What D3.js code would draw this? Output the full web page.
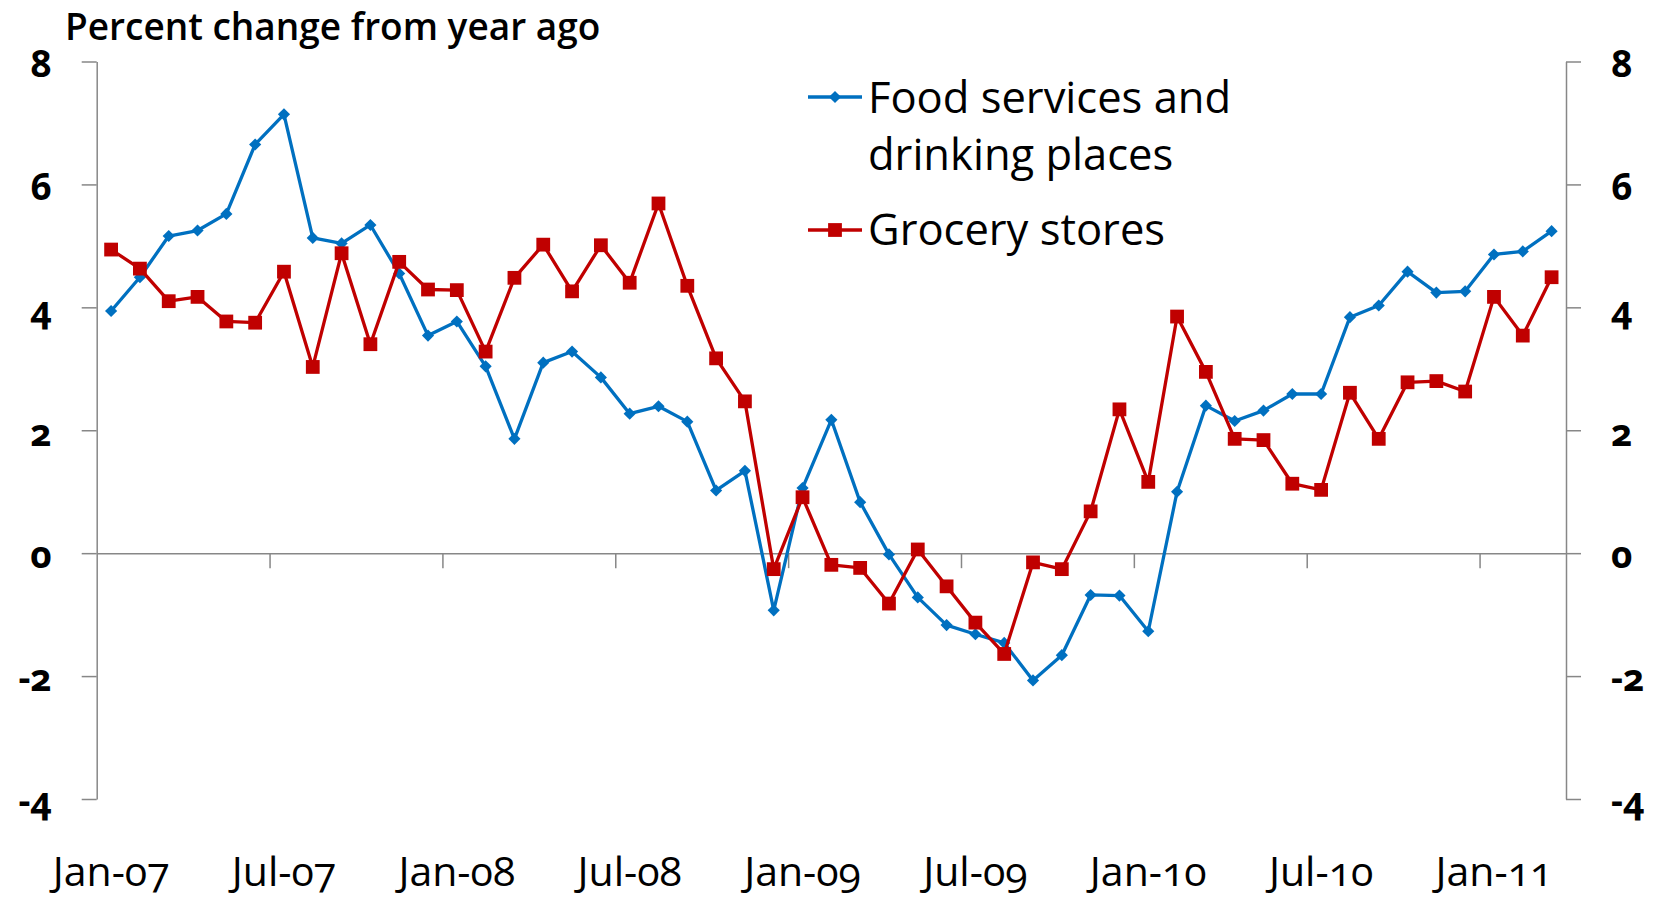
<!DOCTYPE html>
<html>
<head>
<meta charset="utf-8">
<script src="https://cdn.jsdelivr.net/npm/d3@7"></script>
<style>
  html, body { margin: 0; padding: 0; background: #fff; }
  svg { display: block; font-family: "Open Sans", "Noto Sans", sans-serif; }
  .ylab text { font-weight: 700; font-size: 37px; fill: #000; font-variant-numeric: oldstyle-nums; }
  .xlab text { font-size: 41px; fill: #000; font-variant-numeric: oldstyle-nums; }
</style>
</head>
<body>
<div id="chart"></div>
<script>
const months = [
  "Jan-07","Feb-07","Mar-07","Apr-07","May-07","Jun-07","Jul-07","Aug-07","Sep-07","Oct-07","Nov-07","Dec-07",
  "Jan-08","Feb-08","Mar-08","Apr-08","May-08","Jun-08","Jul-08","Aug-08","Sep-08","Oct-08","Nov-08","Dec-08",
  "Jan-09","Feb-09","Mar-09","Apr-09","May-09","Jun-09","Jul-09","Aug-09","Sep-09","Oct-09","Nov-09","Dec-09",
  "Jan-10","Feb-10","Mar-10","Apr-10","May-10","Jun-10","Jul-10","Aug-10","Sep-10","Oct-10","Nov-10","Dec-10",
  "Jan-11","Feb-11","Mar-11"
];

const foodServices = [
  3.94, 4.49, 5.16, 5.25, 5.52, 6.65, 7.14, 5.13, 5.04, 5.34, 4.55, 3.54,
  3.77, 3.04, 1.86, 3.10, 3.28, 2.86, 2.27, 2.39, 2.14, 1.02, 1.34, -0.93,
  1.06, 2.17, 0.83, -0.02, -0.72, -1.17, -1.32, -1.46, -2.07, -1.66, -0.68, -0.69,
  -1.27, 1.00, 2.40, 2.15, 2.32, 2.59, 2.59, 3.84, 4.03, 4.58, 4.24, 4.26,
  4.86, 4.91, 5.24
];

const groceryStores = [
  4.94, 4.63, 4.10, 4.17, 3.77, 3.75, 4.58, 3.03, 4.88, 3.40, 4.74, 4.29,
  4.28, 3.28, 4.48, 5.02, 4.26, 5.01, 4.40, 5.69, 4.35, 3.17, 2.47, -0.26,
  0.91, -0.19, -0.24, -0.82, 0.06, -0.54, -1.13, -1.64, -0.15, -0.26, 0.68, 2.34,
  1.16, 3.85, 2.95, 1.86, 1.84, 1.13, 1.03, 2.61, 1.86, 2.78, 2.80, 2.63,
  4.17, 3.54, 4.49
];

const xTickLabels = ["Jan-07","Jul-07","Jan-08","Jul-08","Jan-09","Jul-09","Jan-10","Jul-10","Jan-11"];
const yTicks = [-4, -2, 0, 2, 4, 6, 8];

const series = [
  { name: ["Food services and", "drinking places"], values: foodServices, color: "#0070C0", marker: "diamond" },
  { name: ["Grocery stores"], values: groceryStores, color: "#C00000", marker: "square" }
];

const WIDTH = 1662, HEIGHT = 899;
const margin = { top: 61.5, right: 96, bottom: 100, left: 96.7 };
const AXIS = "#878787";

const svg = d3.select("#chart").append("svg")
  .attr("width", WIDTH)
  .attr("height", HEIGHT);

const x = d3.scaleBand().domain(months).range([margin.left, WIDTH - margin.right]).padding(0);
const xIdx = d3.scaleLinear().domain([0, months.length]).range([margin.left, WIDTH - margin.right]);
const y = d3.scaleLinear().domain([-4, 8]).range([HEIGHT - margin.bottom, margin.top]);
const cx = d => x(d) + x.bandwidth() / 2;

// title
svg.append("text")
  .attr("x", 65).attr("y", 40)
  .style("font-size", "37px").style("font-weight", 600)
  .text("Percent change from year ago");

function styleAxis(g) {
  g.attr("font-family", null).attr("font-size", null);
  g.select(".domain").attr("stroke", AXIS).attr("stroke-width", 1.5);
  g.selectAll(".tick line").attr("stroke", AXIS).attr("stroke-width", 1.5);
}

// y axes, left and right
svg.append("g").attr("class", "ylab")
  .attr("transform", `translate(${margin.left},0)`)
  .call(d3.axisLeft(y).tickValues(yTicks).tickSize(15).tickSizeOuter(0).tickPadding(30).tickFormat(d => String(d)))
  .call(styleAxis)
  .call(g => g.selectAll("text").attr("dy", "0.4em"));

svg.append("g").attr("class", "ylab")
  .attr("transform", `translate(${WIDTH - margin.right},0)`)
  .call(d3.axisRight(y).tickValues(yTicks).tickSize(15).tickSizeOuter(0).tickPadding(30).tickFormat(d => String(d)))
  .call(styleAxis)
  .call(g => g.selectAll("text").attr("dy", "0.4em"));

// zero line, ticks between categories every 6 months
svg.append("g")
  .attr("transform", `translate(0,${y(0)})`)
  .call(d3.axisBottom(xIdx).tickValues(d3.range(6, months.length, 6)).tickSize(15).tickSizeOuter(0).tickFormat(""))
  .call(styleAxis);

// category labels at the bottom
svg.append("g").attr("class", "xlab")
  .attr("transform", `translate(0,886)`)
  .call(d3.axisBottom(x).tickValues(xTickLabels).tickSize(0).tickPadding(0))
  .call(g => g.attr("font-family", null).attr("font-size", null))
  .call(g => g.select(".domain").remove())
  .call(g => g.selectAll("text").attr("dy", 0));

// lines + markers
const line = d3.line().x((d, i) => cx(months[i])).y(d => y(d));
const diamond = d3.symbol(d3.symbolSquare, 74);
const square = d3.symbol(d3.symbolSquare, 190);

function marker(sel, s) {
  if (s.marker === "diamond") {
    sel.attr("d", diamond).attr("transform", d => `${d.t} rotate(45)`);
  } else {
    sel.attr("d", square).attr("transform", d => d.t);
  }
  sel.attr("fill", s.color);
}

series.forEach(s => {
  svg.append("path")
    .datum(s.values)
    .attr("fill", "none")
    .attr("stroke", s.color)
    .attr("stroke-width", 3.3)
    .attr("stroke-linejoin", "round")
    .attr("d", line);

  svg.append("g").selectAll("path")
    .data(s.values.map((v, i) => ({ t: `translate(${cx(months[i])},${y(v)})` })))
    .join("path")
    .call(marker, s);
});

// legend
const legend = svg.append("g").attr("transform", "translate(808,0)");
const legendRows = [{ lineY: 97, textY: [113, 170] }, { lineY: 230, textY: [245] }];

series.forEach((s, k) => {
  const r = legendRows[k];
  legend.append("line")
    .attr("x1", 0).attr("x2", 54)
    .attr("y1", r.lineY).attr("y2", r.lineY)
    .attr("stroke", s.color).attr("stroke-width", 3.3);
  legend.append("path")
    .datum({ t: `translate(27,${r.lineY})` })
    .call(marker, s);
  s.name.forEach((txt, j) => {
    legend.append("text")
      .attr("x", 60).attr("y", r.textY[j])
      .style("font-size", "43.5px")
      .style("font-weight", 500)
      .text(txt);
  });
});
</script>
</body>
</html>
